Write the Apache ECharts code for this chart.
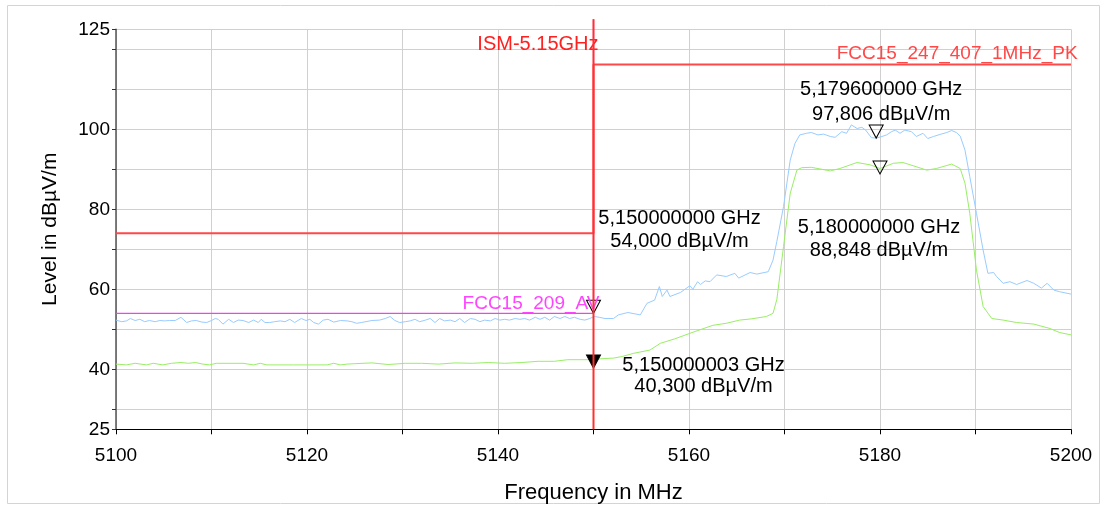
<!DOCTYPE html>
<html>
<head>
<meta charset="utf-8">
<script src="https://cdn.jsdelivr.net/npm/echarts@6/dist/echarts.min.js"></script>
<style>
html,body{margin:0;padding:0;background:#fff;}
#chart{width:1105px;height:506px;}
</style>
</head>
<body>
<div id="chart"></div>
<script>
// ---- data ----
const yTicks = [25, 30, 40, 50, 60, 70, 80, 90, 100, 110, 120, 125];
const yLabels = [25, 40, 60, 80, 100, 125];
const xLabels = [5100, 5120, 5140, 5160, 5180, 5200];

// peak trace (blue) [MHz, dBµV/m]
const pkTrace = [
[5100.0,52.3],[5100.6,51.9],[5101.1,52.1],[5101.5,52.7],[5102.0,52.2],[5102.5,52.5],[5103.0,51.9],[5103.5,52.2],[5104.1,51.9],[5104.6,52.2],
[5105.1,52.1],[5105.6,52.2],[5106.2,52.2],[5106.8,53.0],[5107.4,51.7],[5107.9,52.1],[5108.4,52.2],[5109.0,51.8],[5109.5,51.7],[5110.0,52.2],
[5110.4,52.7],[5110.7,52.5],[5111.2,51.3],[5111.8,52.5],[5112.3,51.7],[5112.8,52.3],[5113.3,52.2],[5113.9,51.7],[5114.4,52.3],[5114.9,51.7],
[5115.2,52.5],[5115.6,51.7],[5116.1,51.7],[5116.6,51.9],[5117.2,52.1],[5117.7,51.9],[5118.2,52.5],[5118.7,51.7],[5119.4,52.7],[5119.9,52.2],
[5120.3,52.5],[5120.7,51.7],[5121.2,51.3],[5121.7,52.3],[5122.2,52.5],[5122.8,51.8],[5123.5,52.2],[5124.2,52.1],[5124.7,51.9],[5125.2,51.5],
[5125.7,51.7],[5126.8,52.2],[5127.6,52.3],[5128.2,52.7],[5128.7,53.2],[5129.2,52.2],[5129.7,51.7],[5130.3,51.9],[5130.8,52.1],[5131.3,52.5],
[5131.8,51.9],[5132.4,52.3],[5132.9,52.7],[5133.4,51.7],[5133.9,52.7],[5134.4,52.1],[5135.0,52.3],[5135.5,51.9],[5136.0,52.7],[5136.5,51.7],
[5137.1,52.7],[5137.6,52.5],[5138.1,51.9],[5138.6,52.3],[5139.2,52.1],[5139.7,52.7],[5140.2,52.3],[5140.7,52.5],[5141.2,52.3],[5141.8,52.7],
[5142.3,52.5],[5142.8,52.7],[5143.3,52.3],[5143.9,53.0],[5144.4,52.5],[5144.9,53.0],[5145.4,52.3],[5145.9,53.2],[5146.5,52.7],[5147.0,53.2],
[5147.5,52.7],[5148.0,53.0],[5148.6,52.5],[5149.1,52.3],[5149.6,52.7],[5150.1,53.2],[5150.6,53.0],[5151.2,52.7],[5152.1,52.7],[5152.6,53.6],
[5153.6,54.2],[5154.9,53.6],[5155.6,56.5],[5156.4,57.3],[5156.9,60.7],[5157.2,58.2],[5157.7,59.8],[5158.0,58.2],[5159.1,59.2],[5160.1,60.9],
[5160.4,60.0],[5160.9,61.9],[5161.2,61.2],[5161.7,62.1],[5162.2,61.9],[5162.9,63.6],[5163.9,63.2],[5164.8,64.0],[5165.2,62.8],[5166.4,64.2],
[5167.1,63.8],[5168.3,64.4],[5168.8,67.3],[5169.2,72.0],[5169.9,80.7],[5170.6,92.3],[5171.1,96.5],[5171.6,98.6],[5172.3,99.0],[5172.8,99.2],
[5173.5,98.6],[5174.1,98.8],[5174.8,98.2],[5175.3,98.0],[5176.0,99.4],[5176.5,99.0],[5177.0,101.1],[5177.6,100.2],[5178.1,100.5],[5178.5,99.8],
[5179.1,97.9],[5179.6,97.8],[5180.2,98.2],[5180.7,98.6],[5181.2,99.4],[5181.6,99.8],[5182.1,99.0],[5182.6,99.8],[5183.3,99.4],[5183.8,98.2],
[5184.5,99.0],[5185.0,97.7],[5185.6,98.2],[5186.4,98.8],[5187.0,99.2],[5187.5,99.7],[5188.0,99.2],[5188.4,98.3],[5188.9,94.8],[5189.4,88.2],
[5190.1,79.0],[5190.8,69.8],[5191.3,64.0],[5191.9,64.2],[5192.2,63.2],[5192.9,61.5],[5193.6,61.9],[5194.3,61.2],[5195.4,62.2],[5196.1,61.5],
[5196.9,60.3],[5197.5,61.5],[5198.2,59.8],[5198.8,59.4],[5200.0,58.8]
];

// average trace (green) [MHz, dBµV/m]
const avTrace = [
[5100.0,41.3],[5101.1,41.1],[5102.0,41.5],[5103.2,41.1],[5103.9,41.5],[5104.9,41.1],[5105.8,41.5],[5106.8,41.7],[5107.6,41.5],[5108.3,41.7],
[5109.1,41.3],[5109.8,41.1],[5110.5,41.5],[5113.3,41.5],[5114.4,41.1],[5115.1,41.5],[5115.8,41.1],[5118.6,41.1],[5122.1,41.1],[5122.8,41.5],
[5123.5,41.1],[5124.2,41.3],[5125.0,41.4],[5126.8,41.6],[5128.5,41.2],[5130.3,41.5],[5132.0,41.5],[5133.8,41.3],[5135.5,41.6],[5137.3,41.5],
[5139.0,41.7],[5140.7,41.5],[5142.5,41.7],[5144.2,42.0],[5145.9,42.0],[5147.3,42.4],[5149.4,42.4],[5151.2,42.7],[5152.1,42.8],[5153.0,43.2],
[5154.2,44.0],[5155.9,44.8],[5157.0,46.5],[5158.5,47.6],[5160.1,49.0],[5161.3,50.0],[5162.5,51.0],[5163.9,51.5],[5165.3,52.3],[5166.5,52.6],
[5168.1,53.2],[5168.8,54.0],[5169.2,57.5],[5169.9,70.7],[5170.6,84.0],[5171.3,89.8],[5171.8,90.4],[5172.8,90.5],[5174.8,89.6],[5175.8,90.2],
[5177.6,91.7],[5179.0,91.1],[5180.0,90.2],[5181.4,91.5],[5182.4,91.7],[5184.9,89.8],[5185.9,90.2],[5187.5,91.3],[5188.4,90.2],[5188.9,86.5],
[5189.4,79.0],[5190.1,64.8],[5190.8,55.7],[5191.7,52.7],[5192.9,52.3],[5194.3,51.7],[5196.1,51.3],[5197.8,50.2],[5198.8,49.2],[5200.0,48.6]
];

// limit lines
const pkLimitName = 'FCC15_247_407_1MHz_PK';
const pkLimit = [[5100,74],[5150,74],[5150,116.2],[5200,116.2]];
const avLimitName = 'FCC15_209_AV';
const avLimit = [[5100,54],[5150,54],[5150,127.5]];
const ismName = 'ISM-5.15GHz';
const ismLine = [[5150,25],[5150,127.5]];

// markers
const markerFreq = [5179.6, 5180.0, 5150.0, 5150.000003];
const markerLevel = [97.806, 88.848, 54.000, 40.300];

// ---- chart ----
const FONT = 'Liberation Sans, Arial, sans-serif';
const fmtF = f => (f / 1000).toFixed(9).replace('.', ',') + ' GHz';
const fmtL = l => l.toFixed(3).replace('.', ',') + ' dB\u00b5V/m';
const tri = 'path://M0,0 L14,0 L7,13 Z';

function markerSymbol(i, filled) {
  return {
    coord: [markerFreq[i], markerLevel[i]],
    symbol: tri, symbolSize: [14, 13], symbolOffset: [0, -6.5],
    itemStyle: { color: filled ? '#000' : 'rgba(255,255,255,0)', borderColor: '#000', borderWidth: 1 },
    label: { show: false }
  };
}
function markerText(i, off, lh) {
  return {
    coord: [markerFreq[i], markerLevel[i]],
    symbol: 'circle', symbolSize: 1,
    itemStyle: { color: 'rgba(0,0,0,0)' },
    label: {
      show: true, position: 'inside', formatter: fmtF(markerFreq[i]) + '\n' + fmtL(markerLevel[i]),
      color: '#000', fontFamily: FONT, fontSize: 20, lineHeight: lh,
      align: 'center', verticalAlign: 'middle', offset: off
    }
  };
}
function limitText(coord, text, color, align, off, fs) {
  return {
    coord: coord, symbol: 'circle', symbolSize: 1,
    itemStyle: { color: 'rgba(0,0,0,0)' },
    label: {
      show: true, position: 'inside', formatter: text, color: color,
      fontFamily: FONT, fontSize: fs, align: align, verticalAlign: 'middle', offset: off
    }
  };
}

const chart = echarts.init(document.getElementById('chart'), null, { renderer: 'canvas' });
chart.setOption({
  animation: false,
  backgroundColor: '#fff',
  graphic: [{
    type: 'rect', shape: { x: 7.5, y: 5.5, width: 1092, height: 498 },
    style: { fill: 'none', stroke: '#d4d4d4', lineWidth: 1 }, z: -1
  }],
  grid: { left: 116, right: 34, top: 29.3, height: 400, outerBoundsMode: 'none', containLabel: false },
  xAxis: {
    type: 'value', min: 5100, max: 5200, interval: 10,
    name: 'Frequency in MHz', nameLocation: 'middle', nameGap: 53,
    nameTextStyle: { color: '#000', fontFamily: FONT, fontSize: 22 },
    axisLine: { show: true, onZero: false, lineStyle: { color: '#000', width: 1 } },
    axisTick: { show: true, length: 5, lineStyle: { color: '#000' } },
    axisLabel: { customValues: xLabels, formatter: v => String(v), color: '#000', fontFamily: FONT, fontSize: 19, margin: 17 },
    splitLine: { show: true, lineStyle: { color: '#d0d0d0', width: 1 } }
  },
  yAxis: {
    type: 'value', min: 25, max: 125,
    name: 'Level in dB\u00b5V/m', nameLocation: 'middle', nameGap: 55,
    nameTextStyle: { color: '#000', fontFamily: FONT, fontSize: 21 },
    axisLine: { show: true, onZero: false, lineStyle: { color: '#555', width: 1.5 } },
    axisTick: { show: true, length: 4, customValues: yTicks, lineStyle: { color: '#333' } },
    axisLabel: { customValues: yLabels, formatter: v => String(v), color: '#000', fontFamily: FONT, fontSize: 19, margin: 6, padding: [2, 0, 0, 0] },
    splitLine: { show: true, lineStyle: { color: '#d0d0d0', width: 1 } }
  },
  series: [
    {
      name: 'PK', type: 'line', data: pkTrace, showSymbol: false, symbol: 'none',
      lineStyle: { color: '#99ccff', width: 1 }, z: 2,
      markPoint: { animation: false, data: [markerSymbol(0, false), markerSymbol(2, false),
        markerText(0, [5, -36.3], 25), markerText(2, [86, -83.3], 22.5)] }
    },
    {
      name: 'AV', type: 'line', data: avTrace, showSymbol: false, symbol: 'none',
      lineStyle: { color: '#99ee66', width: 1 }, z: 2,
      markPoint: { animation: false, data: [markerSymbol(1, false), markerSymbol(3, true),
        markerText(1, [-1, 65.4], 23), markerText(3, [110, 8], 21.5)] }
    },
    {
      name: avLimitName, type: 'line', data: avLimit, showSymbol: false, symbol: 'none', clip: false,
      lineStyle: { color: '#ee44ee', width: 1.2 }, z: 3,
      markPoint: { animation: false, data: [limitText([5150, 54], avLimitName, '#ff44ff', 'right', [6, -10], 19)] }
    },
    {
      name: pkLimitName, type: 'line', data: pkLimit, showSymbol: false, symbol: 'none', clip: false,
      lineStyle: { color: '#ff4848', width: 2 }, z: 4,
      markPoint: { animation: false, data: [limitText([5175, 116.2], pkLimitName, '#ff4848', 'left', [4.5, -11], 19)] }
    },
    {
      name: ismName, type: 'line', data: ismLine, showSymbol: false, symbol: 'none', clip: false,
      lineStyle: { color: '#ff3030', width: 2 }, z: 5,
      markPoint: { animation: false, data: [limitText([5150, 125], ismName, '#ff2020', 'right', [5, 14.7], 20)] }
    }
  ]
});
</script>
</body>
</html>
